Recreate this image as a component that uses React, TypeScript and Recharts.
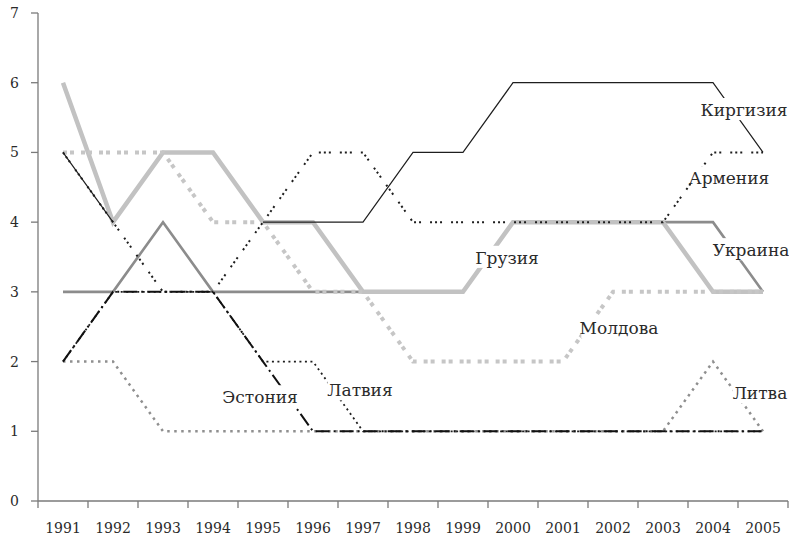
import { Line, LineChart, ReferenceDot, XAxis, YAxis } from "recharts";

const years = [1991, 1992, 1993, 1994, 1995, 1996, 1997, 1998, 1999, 2000, 2001, 2002, 2003, 2004, 2005];
const kyrgyzstan = [5, 4, null, null, 4, 4, 4, 5, 5, 6, 6, 6, 6, 6, 5];
const armenia = [5, 4, 3, 3, 4, 5, 5, 4, 4, 4, 4, 4, 4, 5, 5];
const ukraine = [3, 3, 4, 3, 3, 3, 3, 3, 3, 4, 4, 4, 4, 4, 3];
const georgia = [6, 4, 5, 5, 4, 4, 3, 3, 3, 4, 4, 4, 4, 3, 3];
const moldova = [5, 5, 5, 4, 4, 3, 3, 2, 2, 2, 2, 3, 3, 3, 3];
const lithuania = [2, 2, 1, 1, 1, 1, 1, 1, 1, 1, 1, 1, 1, 2, 1];
const estonia = [2, 3, 3, 3, 2, 1, 1, 1, 1, 1, 1, 1, 1, 1, 1];
const latvia = [2, 3, 3, 3, 2, 2, 1, 1, 1, 1, 1, 1, 1, 1, 1];
const yTicks = [0, 1, 2, 3, 4, 5, 6, 7];

// where the country names sit, in data units (year, score)
const labelSpots = [
  { name: "Киргизия", year: 2004.62, score: 5.61 },
  { name: "Армения", year: 2004.32, score: 4.63 },
  { name: "Украина", year: 2004.76, score: 3.6 },
  { name: "Грузия", year: 1999.88, score: 3.49 },
  { name: "Молдова", year: 2002.12, score: 2.48 },
  { name: "Литва", year: 2004.94, score: 1.55 },
  { name: "Эстония", year: 1994.94, score: 1.49 },
  { name: "Латвия", year: 1996.94, score: 1.59 },
];

const data = years.map((year, i) => ({
  year,
  kyrgyzstan: kyrgyzstan[i],
  armenia: armenia[i],
  ukraine: ukraine[i],
  georgia: georgia[i],
  moldova: moldova[i],
  lithuania: lithuania[i],
  estonia: estonia[i],
  latvia: latvia[i],
}));

// tick marks sit on the year boundaries, labels in between
const xTicks = [...years.map((y) => y - 0.5), years[years.length - 1] + 0.5, ...years];

const FONT = "DejaVu Serif";
const AXIS = "#7a7a7a";
const INK = "#2a2a2a";

function YearTick(props: any) {
  const { x, y, payload } = props;
  if (Number.isInteger(payload.value)) {
    return (
      <text x={x} y={y + 32} textAnchor="middle" fontFamily={FONT} fontSize={14} fill={INK}>
        {payload.value}
      </text>
    );
  }
  return <line x1={x} x2={x} y1={y} y2={y + 7} stroke={AXIS} strokeWidth={1.3} />;
}

function NameTag({ cx, cy, text }: { cx: number; cy: number; text: string }) {
  const size = 17;
  const w = text.length * size * 0.6 + 4;
  return (
    <g>
      <rect x={cx - w / 2} y={cy - size * 0.7} width={w} height={size * 1.3} fill="#fff" />
      <text x={cx} y={cy + size * 0.36} textAnchor="middle" fontFamily={FONT} fontSize={size} fill={INK}>
        {text}
      </text>
    </g>
  );
}

export default function App() {
  return (
    <div style={{ position: "absolute", left: 0, top: 0, background: "#fff" }}>
      <LineChart width={789} height={542} data={data} margin={{ top: 13, right: 1, bottom: 0, left: 0 }}>
        <XAxis
          type="number"
          dataKey="year"
          domain={[1990.5, 2005.5]}
          ticks={xTicks}
          interval={0}
          height={41}
          tickSize={0}
          tickMargin={0}
          tickLine={false}
          tick={<YearTick />}
          axisLine={{ stroke: AXIS, strokeWidth: 1.3 }}
          allowDataOverflow
        />
        <YAxis
          type="number"
          domain={[0, 7]}
          ticks={yTicks}
          interval={0}
          width={38}
          tickSize={7}
          tickMargin={12}
          axisLine={{ stroke: AXIS, strokeWidth: 1.3 }}
          tickLine={{ stroke: AXIS, strokeWidth: 1.3 }}
          tick={{ fontFamily: FONT, fontSize: 14, fill: INK }}
        />
        <Line dataKey="ukraine" stroke="#8c8c8c" strokeWidth={2.6} dot={false} activeDot={false} isAnimationActive={false} />
        <Line dataKey="georgia" stroke="#c2c2c2" strokeWidth={4.5} dot={false} activeDot={false} isAnimationActive={false} />
        <Line dataKey="moldova" stroke="#c6c6c6" strokeWidth={4} strokeDasharray="4 3 4 7" dot={false} activeDot={false} isAnimationActive={false} />
        <Line dataKey="lithuania" stroke="#8f8f8f" strokeWidth={2.5} strokeDasharray="2.5 4.5" dot={false} activeDot={false} isAnimationActive={false} />
        <Line dataKey="kyrgyzstan" stroke="#1e1e1e" strokeWidth={1.2} dot={false} activeDot={false} isAnimationActive={false} />
        <Line dataKey="armenia" stroke="#1e1e1e" strokeWidth={2} strokeDasharray="2 3 2 3 2 9" dot={false} activeDot={false} isAnimationActive={false} />
        <Line dataKey="latvia" stroke="#1e1e1e" strokeWidth={1.8} strokeDasharray="2 3.5" dot={false} activeDot={false} isAnimationActive={false} />
        <Line dataKey="estonia" stroke="#111" strokeWidth={2} strokeDasharray="14 4 2 4" dot={false} activeDot={false} isAnimationActive={false} />
        {labelSpots.map((s) => (
          <ReferenceDot
            key={s.name}
            x={s.year}
            y={s.score}
            r={0}
            shape={(p: any) => <NameTag cx={p.cx} cy={p.cy} text={s.name} />}
          />
        ))}
      </LineChart>
    </div>
  );
}
